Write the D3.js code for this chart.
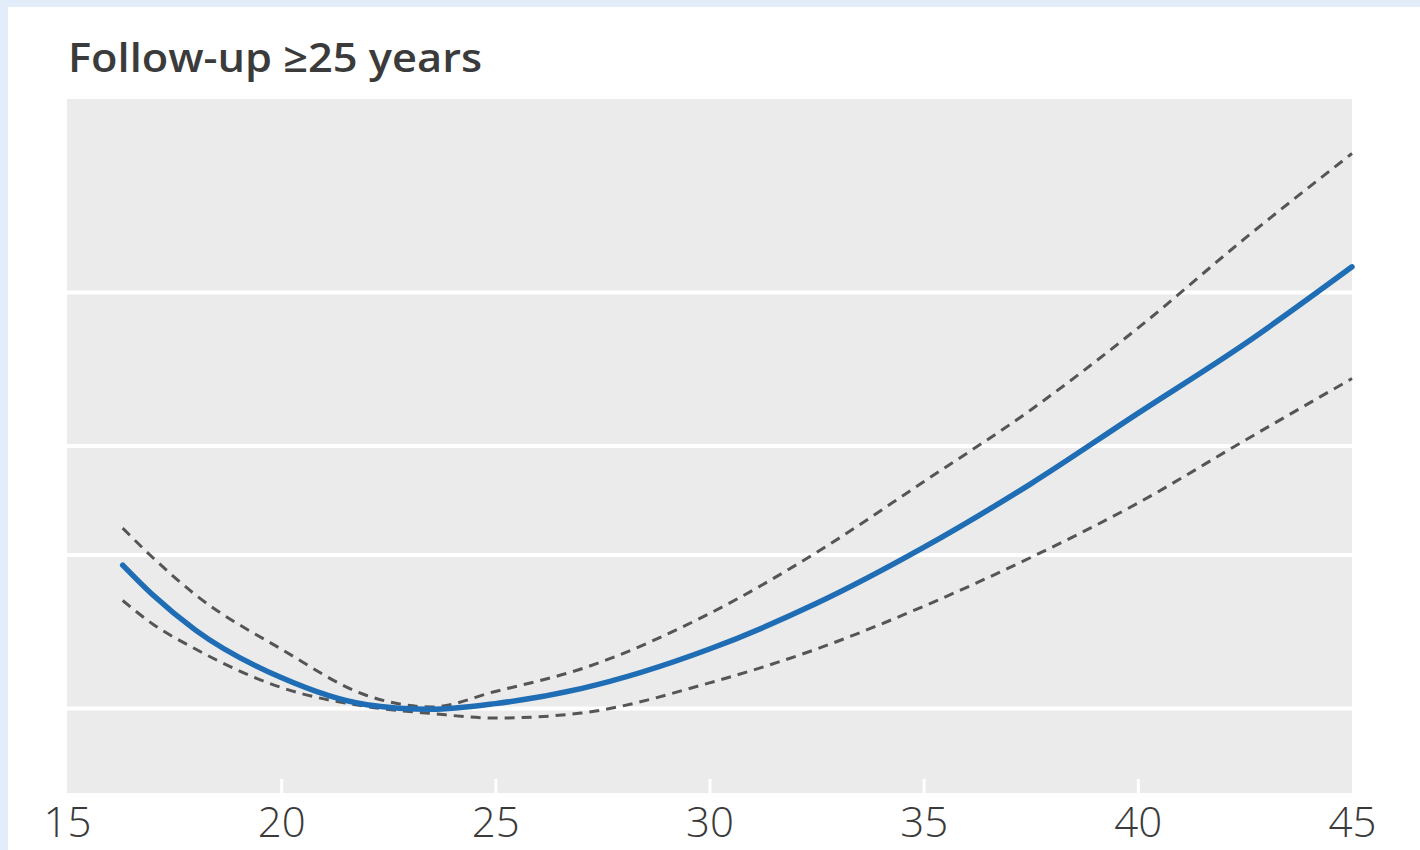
<!DOCTYPE html>
<html>
<head>
<meta charset="utf-8">
<script src="https://cdn.jsdelivr.net/npm/d3@7"></script>
<style>
	html, body { margin: 0; padding: 0; background: #e3edf9; }
	svg { display: block; }
</style>
</head>
<body>
<svg id="chart" xmlns="http://www.w3.org/2000/svg"></svg>
<script>
// chart values
const title = "Follow-up \u226525 years";
const ages = [16.3, 17, 18, 20, 22, 23.5, 25, 27, 30, 32.5, 35, 37.5, 40, 42.5, 45];
const hazard = [1.46, 1.35, 1.23, 1.085, 1.01, 0.998, 1.013, 1.054, 1.17, 1.32, 1.53, 1.81, 2.18, 2.62, 3.21];
const upper = [1.61, 1.49, 1.35, 1.17, 1.035, 1.004, 1.046, 1.11, 1.285, 1.51, 1.82, 2.2, 2.73, 3.46, 4.33];
const lower = [1.33, 1.25, 1.17, 1.057, 1.005, 0.987, 0.975, 0.988, 1.07, 1.17, 1.31, 1.49, 1.72, 2.03, 2.39];
const xTicks = [15, 20, 25, 30, 35, 40, 45];
const yGrid = [1, 1.5, 2, 3];

const width = 1420;
const height = 850;
const plot = { left: 67, right: 1352, top: 99, bottom: 793 };

const svg = d3.select("#chart").attr("width", width).attr("height", height);

// white card over the blue page
svg.append("rect").attr("x", 8).attr("y", 7).attr("width", width - 8).attr("height", height - 7).attr("fill", "#fff");

const x = d3.scaleLinear().domain([15, 45]).range([plot.left, plot.right]);
const y = d3.scaleLog().domain([0.8, 5]).range([plot.bottom, plot.top]);

svg.append("text")
	.attr("x", 68)
	.attr("y", 72)
	.attr("font-family", "'Open Sans', sans-serif")
	.attr("font-weight", 600)
	.attr("font-size", 40)
	.attr("fill", "#3b3b3b")
	.attr("textLength", 414)
	.attr("lengthAdjust", "spacingAndGlyphs")
	.text(title);

svg.append("rect")
	.attr("x", plot.left)
	.attr("y", plot.top)
	.attr("width", plot.right - plot.left)
	.attr("height", plot.bottom - plot.top)
	.attr("fill", "#ebebeb");

svg.append("g")
	.selectAll("line")
	.data(yGrid)
	.join("line")
	.attr("x1", plot.left)
	.attr("x2", plot.right)
	.attr("y1", d => y(d))
	.attr("y2", d => y(d))
	.attr("stroke", "#fff")
	.attr("stroke-width", 4);

// x axis: short white ticks inside the panel, labels below
const axis = svg.append("g")
	.attr("transform", `translate(0,${plot.bottom})`)
	.call(d3.axisBottom(x).tickValues(xTicks).tickSize(0).tickPadding(44));
axis.select(".domain").remove();
axis.selectAll("text")
	.attr("font-family", "'Open Sans', sans-serif")
	.attr("font-weight", 300)
	.attr("font-size", 42)
	.attr("fill", "#3a3a3a")
	.attr("dy", 0);
axis.selectAll(".tick")
	.filter(d => d > 15 && d < 45)
	.append("line")
	.attr("y1", 0)
	.attr("y2", -14)
	.attr("stroke", "#fff")
	.attr("stroke-width", 3);

const line = d3.line()
	.x(d => x(d[0]))
	.y(d => y(d[1]))
	.curve(d3.curveMonotoneX);

const dashed = [upper, lower];
svg.append("g")
	.selectAll("path")
	.data(dashed)
	.join("path")
	.attr("d", vals => line(d3.zip(ages, vals)))
	.attr("fill", "none")
	.attr("stroke", "#555")
	.attr("stroke-width", 3)
	.attr("stroke-dasharray", "10 7");

svg.append("path")
	.attr("d", line(d3.zip(ages, hazard)))
	.attr("fill", "none")
	.attr("stroke", "#1f6db4")
	.attr("stroke-width", 5.5)
	.attr("stroke-linecap", "round");
</script>
</body>
</html>
